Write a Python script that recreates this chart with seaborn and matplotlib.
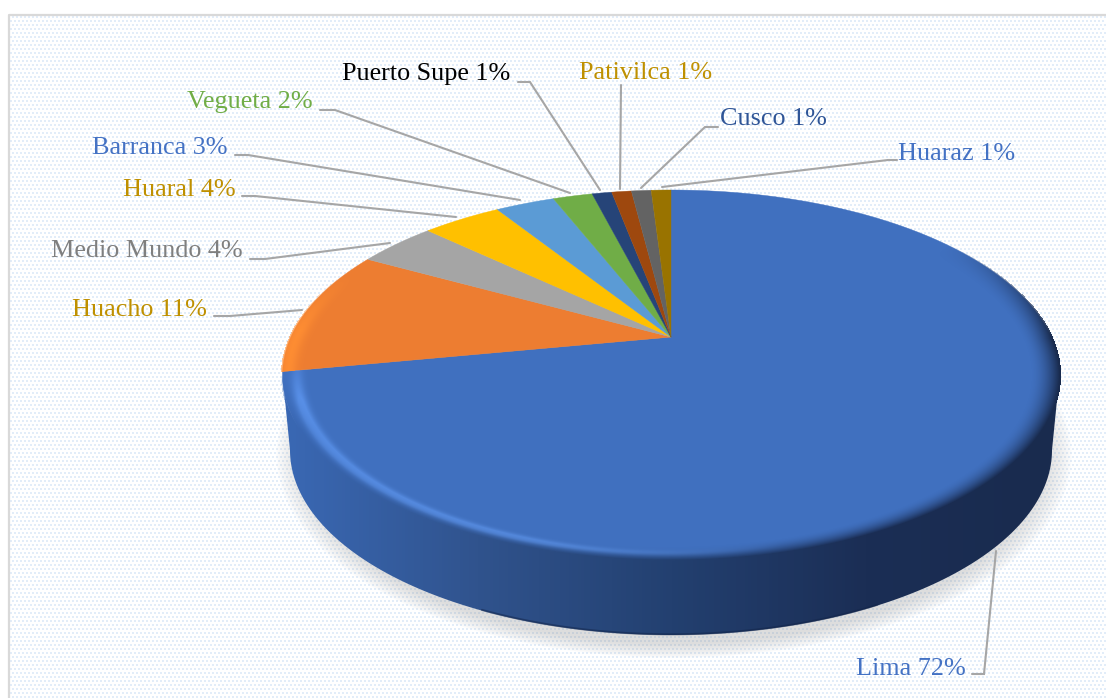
import numpy as np
import matplotlib
matplotlib.use("Agg")
import matplotlib.pyplot as plt
from matplotlib.patches import Polygon
import seaborn as sns

# Data
cities = ["Lima", "Huacho", "Medio Mundo", "Huaral", "Barranca", "Vegueta",
          "Puerto Supe", "Pativilca", "Cusco", "Huaraz"]
shares = [72, 11, 4, 4, 3, 2, 1, 1, 1, 1]

slice_colors = ["#4070bf", "#ed7d31", "#a5a5a5", "#ffc000", "#5b9bd5",
                "#70ad47", "#264478", "#9e480e", "#636363", "#997300"]
label_colors = ["#4472c4", "#bf9000", "#7f7f7f", "#bf9000", "#4472c4",
                "#70ad47", "#000000", "#bf9000", "#2f5597", "#4472c4"]

# Label layout in pixels: x, y, anchor
label_pos = [(966, 669, "right"), (207, 310, "right"), (243, 251, "right"),
             (236, 190, "right"), (228, 148, "right"), (313, 102, "right"),
             (510, 74, "right"), (579, 73, "left"), (720, 119, "left"),
             (898, 154, "left")]
leaders = [[(996, 551), (984, 674), (972, 674)],
           [(302, 310), (230, 316), (214, 316)],
           [(390, 243), (265, 259), (250, 259)],
           [(456, 217), (255, 196), (242, 196)],
           [(520, 200), (248, 155), (235, 155)],
           [(570, 193), (335, 110), (320, 110)],
           [(600, 190), (530, 82), (518, 82)],
           [(620, 189), (621, 85)],
           [(641, 188), (705, 127), (718, 127)],
           [(662, 187), (888, 160), (897, 160)]]

# Pie geometry in pixels
W, H = 1106, 698
cx, cy, a, b = 671, 375, 388.5, 185
k = 0.205      # perspective shift of the pie centre
bcy, ba = 450, 381   # bottom ellipse

sns.set_theme(style="white")
plt.rcParams["font.family"] = ["Liberation Serif", "DejaVu Serif"]

fig = plt.figure(figsize=(W / 100, H / 100), dpi=100)
ax = fig.add_axes([0, 0, 1, 1])
ax.set_axis_off()
extent = (0, W, H, 0)
xx, yy = np.meshgrid(np.arange(W) + 0.5, np.arange(H) + 0.5)


def project(theta):
    # clockwise angle from the top -> pixel on the tilted disk
    u, v = np.sin(theta), np.cos(theta)
    d = 1 + k * v
    return cx + a * u * np.sqrt(1 - k * k) / d, cy - b * (v + k) / d


# Dotted background
bg = np.ones((H, W, 3))
ix, iy = xx.astype(int), yy.astype(int)
dots = ((ix + 2 * ((iy // 4) % 2)) % 4 < 2) & (iy % 4 < 2)
bg[dots] = matplotlib.colors.to_rgb("#e2edf9")
bg[(xx < 8) | (yy < 14)] = 1
ax.imshow(bg, extent=extent, aspect="auto", interpolation="nearest", zorder=0)
ax.plot([9, 9, W], [H, 15, 15], color="#d9d9d9", lw=1.6, zorder=1)

# Soft shadow under the pie
rs = np.hypot((xx - 674) / 398, (yy - 455) / 203)
shadow = np.zeros((H, W, 4))
shadow[..., :3] = 0.5
shadow[..., 3] = 0.26 * np.clip((1 - rs) / 0.07, 0, 1) ** 0.8
ax.imshow(shadow, extent=extent, aspect="auto", zorder=1.5)

# Side wall with a left to right gradient
t = np.linspace(np.pi, 2 * np.pi, 240)
top_edge = np.column_stack([cx + a * np.cos(t), cy - b * np.sin(t)])
bot_edge = np.column_stack([cx + ba * np.cos(t), bcy - b * np.sin(t)])
wall = np.vstack([top_edge, bot_edge[::-1]])
wall_colors = sns.blend_palette(["#3a68b4", "#30538d", "#234070", "#1b2e55", "#192b4e"], n_colors=W)
grad = np.array(wall_colors)[np.clip((np.arange(W) - 283) * W // 777, 0, W - 1)]
grad_im = ax.imshow(np.tile(grad[None, :, :], (H, 1, 1)), extent=extent, aspect="auto", zorder=2)
clip = Polygon(wall, closed=True, transform=ax.transData, fc="none", ec="none")
ax.add_patch(clip)
grad_im.set_clip_path(clip)
front = (bot_edge[:, 0] > 480) & (bot_edge[:, 0] < 880)
ax.plot(bot_edge[front, 0], bot_edge[front, 1] - 0.7, color="#122448", lw=1.5, alpha=0.5, zorder=2.5)

# Top face slices, clockwise from twelve o'clock
palette = sns.color_palette(slice_colors)
edges = np.cumsum([0] + shares) / sum(shares) * 2 * np.pi
apex = (cx, cy - b * k)
for i, share in enumerate(shares):
    th = np.linspace(edges[i], edges[i + 1], max(3, int(share * 8)))
    px, py = project(th)
    ax.fill(np.r_[apex[0], px], np.r_[apex[1], py], color=palette[i], lw=0.3, zorder=3)

# Bevel along the rim
r = np.hypot((xx - cx) / a, (yy - cy) / b)
nx = (xx - cx) / a / np.maximum(r, 1e-6)
ny = (yy - cy) / b / np.maximum(r, 1e-6)
band = np.clip((1 - r) / 0.075, 0, 1)
lit = np.clip((0.3 - nx) / 0.7, 0, 1)
shade = np.clip((nx + 0.25) / 0.7, 0, 1)
lima_x, lima_y = project(np.array(edges[1]))
below = yy > apex[1] + (lima_y - apex[1]) * (xx - apex[0]) / (lima_x - apex[0])
glow_lima = np.exp(-((band - 0.5) / 0.22) ** 2) * lit * np.clip((ny + 0.15) / 0.3, 0, 1)
glow_orange = np.exp(-((band - 0.2) / 0.3) ** 2) * 0.9 * np.clip((ny + 0.55) / 0.3, 0, 1) * (nx < 0)
glow = np.where(below, glow_lima, glow_orange)
front_weight = np.maximum(shade, np.clip(ny / 0.3, 0, 1))
dark = (1 - band) ** 1.8 * front_weight * np.clip((ny + 0.7) / 0.5, 0, 1)
overlay = np.zeros((H, W, 4))
hi = np.where(below[..., None], np.array([0.36, 0.58, 0.93]), np.array([1.0, 0.56, 0.2]))
lo = np.array(wall_colors)[np.clip((ix - 283) * W // 777, 0, W - 1)]
alpha = np.clip(glow + dark, 0, 1)
mix = (glow / np.maximum(glow + dark, 1e-6))[..., None]
overlay[..., :3] = hi * mix + lo * (1 - mix)
overlay[..., 3] = alpha * (r < 1.004)
ax.imshow(overlay, extent=extent, aspect="auto", zorder=3.5)

# Leader lines and labels
for line in leaders:
    xs, ys = zip(*line)
    ax.plot(xs, ys, color="#a6a6a6", lw=1.5, zorder=4, solid_joinstyle="miter")
for city, share, color, (x, y, anchor) in zip(cities, shares, label_colors, label_pos):
    ax.text(x, y, f"{city} {share}%", color=color, fontsize=18.8, ha=anchor, va="center", zorder=5)

ax.set_xlim(0, W)
ax.set_ylim(H, 0)
fig.savefig("out.png", dpi=100)
